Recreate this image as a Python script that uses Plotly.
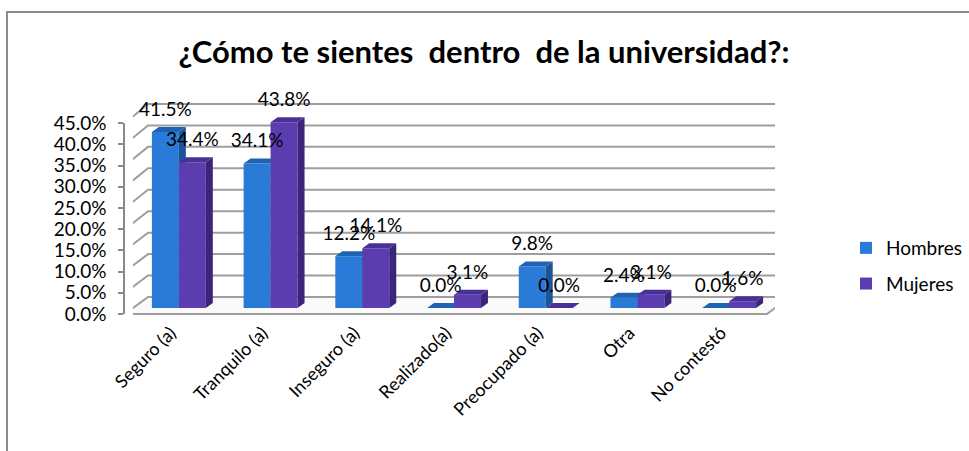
import plotly.graph_objects as go

# ---------------- data ----------------
categories = ["Seguro (a)", "Tranquilo (a)", "Inseguro (a)", "Realizado(a)",
              "Preocupado (a)", "Otra", "No contestó"]
hombres = [41.5, 34.1, 12.2, 0.0, 9.8, 2.4, 0.0]
mujeres = [34.4, 43.8, 14.1, 3.1, 0.0, 3.1, 1.6]
series_names = ["Hombres", "Mujeres"]
y_ticks = [0, 5, 10, 15, 20, 25, 30, 35, 40, 45]
y_tick_labels = ["0.0%", "5.0%", "10.0%", "15.0%", "20.0%", "25.0%",
                 "30.0%", "35.0%", "40.0%", "45.0%"]
title_text = "¿Cómo te sientes  dentro  de la universidad?:"

# ---------------- styling / geometry ----------------
W, H = 969, 451
PAGE_OFF = 0          # body margin removed via post_script
FONT = "Lato"
C_FRONT = ["#2A7AD8", "#5C3DB0"]
C_SIDE = ["#1B5598", "#3A2578"]
C_TOP = ["#1F63B4", "#4A3198"]
GRID = "#9E9E9E"

PX_X = 91.71          # pixels per category unit
PX_Y = 4.24           # pixels per percent (front)
BAR_W = 0.294
DDX, DDY = 7 / PX_X, 5 / PX_Y            # bar depth
FX, FY = -8 / PX_X, -6 / PX_Y            # front plane offset
BX = 15 / PX_X                           # back plane x offset
B0, BS = 11 / PX_Y, 4.29 / PX_Y          # back plane y = B0 + BS*v

idx = list(range(len(categories)))
xr = [-0.5, len(categories) - 0.5]
yr_main = [-5, 55]

def fx(px):
    return (px - PAGE_OFF) / W

def fy(py):
    return 1 - (py - PAGE_OFF) / H

fig = go.Figure()

# invisible helper on the front axis subplot so its axes get drawn
fig.add_trace(go.Scatter(x=idx, y=hombres, xaxis="x", yaxis="y", mode="markers",
                         marker=dict(opacity=0), hoverinfo="skip", showlegend=False))

# ---- walls / floor / gridlines (main subplot x2/y2) ----
gx, gy = [], []
for v in y_ticks[1:]:
    yb = B0 + BS * v
    gx += [xr[0] + FX, xr[0] + BX, xr[1] + BX, None]
    gy += [v + FY, yb, yb, None]
fig.add_trace(go.Scatter(x=gx, y=gy, xaxis="x2", yaxis="y2", mode="lines",
                         line=dict(color=GRID, width=2), hoverinfo="skip",
                         showlegend=False))
floor_x = [xr[0] + FX, xr[1] + FX, xr[1] + BX, xr[0] + BX, xr[0] + FX]
floor_y = [FY, FY, B0, B0, FY]
fig.add_trace(go.Scatter(x=floor_x, y=floor_y, xaxis="x2", yaxis="y2", mode="lines",
                         fill="toself", fillcolor="rgba(250,250,250,1)",
                         line=dict(color=GRID, width=2), hoverinfo="skip",
                         showlegend=False))

# ---- bars with 3D faces ----
axes_for = [("x3", "y3"), ("x4", "y4")]
offsets = [-BAR_W, 0.0]
for s, vals in enumerate([hombres, mujeres]):
    xa, ya = axes_for[s]
    fig.add_trace(go.Bar(x=idx, y=vals, xaxis=xa, yaxis=ya, name=series_names[s],
                         offset=offsets[s], width=BAR_W,
                         marker=dict(color=C_FRONT[s], line=dict(width=0)),
                         legendgroup=series_names[s], hoverinfo="skip"))
    sx, sy, tx, ty = [], [], [], []
    for c, v in zip(idx, vals):
        l = c + offsets[s]
        r = l + BAR_W
        sx += [r, r + DDX, r + DDX, r, r, None]
        sy += [0, DDY, v + DDY, v, 0, None]
        tx += [l, r, r + DDX, l + DDX, l, None]
        ty += [v, v, v + DDY, v + DDY, v, None]
    fig.add_trace(go.Scatter(x=sx, y=sy, xaxis=xa, yaxis=ya, mode="lines", fill="toself",
                             fillcolor=C_SIDE[s], line=dict(width=0, color=C_SIDE[s]),
                             hoverinfo="skip", showlegend=False))
    fig.add_trace(go.Scatter(x=tx, y=ty, xaxis=xa, yaxis=ya, mode="lines", fill="toself",
                             fillcolor=C_TOP[s], line=dict(width=0, color=C_TOP[s]),
                             hoverinfo="skip", showlegend=False))

# ---- data labels ----
LBL_OFF = 21 / PX_Y
for s, vals in enumerate([hombres, mujeres]):
    fig.add_trace(go.Scatter(x=[c + offsets[s] + BAR_W / 2 for c in idx],
                             y=[v + LBL_OFF for v in vals],
                             text=[f"{v:.1f}%" for v in vals],
                             mode="text", xaxis="x4", yaxis="y4",
                             textfont=dict(family=FONT, size=19, color="black"),
                             textposition="middle center", hoverinfo="skip",
                             showlegend=False))

hidden = dict(visible=False, showgrid=False, zeroline=False, fixedrange=True)

fig.update_layout(
    width=W, height=H,
    margin=dict(l=0, r=0, t=0, b=0),
    paper_bgcolor="white", plot_bgcolor="rgba(0,0,0,0)",
    font=dict(family=FONT, size=16, color="black"),
    showlegend=True,
    title=dict(text="<b>" + title_text + "</b>", x=fx(484), xanchor="center",
               y=fy(52), yanchor="middle",
               font=dict(family=FONT, size=31, color="black")),
    legend=dict(x=fx(846), y=fy(229), xanchor="left", yanchor="top",
                traceorder="grouped", tracegroupgap=8,
                font=dict(family=FONT, size=19, color="black"),
                bgcolor="rgba(0,0,0,0)"),
    xaxis=dict(domain=[fx(125), fx(767)], range=xr, anchor="y",
               tickmode="array", tickvals=idx, ticktext=categories, tickangle=-45,
               showline=False, showgrid=False, zeroline=False, ticks="",
               ticklabelstandoff=4,
               tickfont=dict(family=FONT, size=18, color="black"),
               automargin=False, fixedrange=True),
    yaxis=dict(domain=[fy(314), fy(314 - 45 * PX_Y)], range=[0, 45], anchor="x",
               tickmode="array", tickvals=y_ticks, ticktext=y_tick_labels,
               showline=True, linecolor="#8A8A8A", linewidth=1.5,
               ticks="outside", ticklen=5, tickcolor="#8A8A8A", tickwidth=1.5,
               ticklabelstandoff=8,
               showgrid=False, zeroline=False,
               tickfont=dict(family=FONT, size=19, color="black"),
               automargin=False, fixedrange=True),
    xaxis2=dict(domain=[fx(133), fx(775)], range=xr, anchor="y2", **hidden),
    yaxis2=dict(domain=[fy(308 - yr_main[0] * PX_Y), fy(308 - yr_main[1] * PX_Y)],
                range=yr_main, anchor="x2", **hidden),
    xaxis3=dict(overlaying="x2", range=xr, anchor="y3", **hidden),
    yaxis3=dict(overlaying="y2", range=yr_main, anchor="x3", **hidden),
    xaxis4=dict(overlaying="x2", range=xr, anchor="y4", **hidden),
    yaxis4=dict(overlaying="y2", range=yr_main, anchor="x4", **hidden),
    shapes=[dict(type="rect", xref="paper", yref="paper",
                 x0=fx(7), y0=fy(12), x1=1.05, y1=-0.05,
                 line=dict(color="#8C8C8C", width=2), fillcolor="rgba(0,0,0,0)",
                 layer="below")],
)

fig.write_html("out.html",
               config={"displayModeBar": False},
               post_script="document.body.style.margin='0px';"
                           "document.body.style.overflow='hidden';")
